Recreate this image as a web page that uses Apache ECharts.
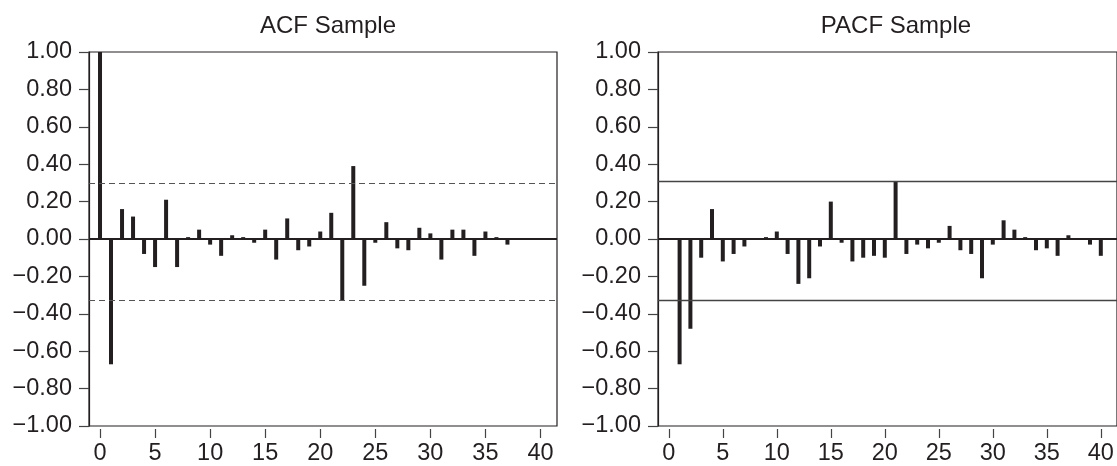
<!DOCTYPE html>
<html>
<head>
<meta charset="utf-8">
<title>ACF / PACF Sample</title>
<script src="https://cdn.jsdelivr.net/npm/echarts@6/dist/echarts.min.js"></script>
<style>
  html, body { margin: 0; padding: 0; background: #fff; }
  #chart { width: 1117px; height: 466px; }
</style>
</head>
<body>
<div id="chart"></div>
<script>
// 数据
const acfLags = [0, 1, 2, 3, 4, 5, 6, 7, 8, 9, 10, 11, 12, 13, 14, 15, 16, 17, 18, 19,
  20, 21, 22, 23, 24, 25, 26, 27, 28, 29, 30, 31, 32, 33, 34, 35, 36, 37];
const acfValues = [1.00, -0.67, 0.16, 0.12, -0.08, -0.15, 0.21, -0.15, 0.01, 0.05,
  -0.03, -0.09, 0.02, 0.01, -0.02, 0.05, -0.11, 0.11, -0.06, -0.04,
  0.04, 0.14, -0.33, 0.39, -0.25, -0.02, 0.09, -0.05, -0.06, 0.06,
  0.03, -0.11, 0.05, 0.05, -0.09, 0.04, 0.01, -0.03];

const pacfLags = [1, 2, 3, 4, 5, 6, 7, 9, 10, 11, 12, 13, 14, 15, 16, 17, 18, 19, 20,
  21, 22, 23, 24, 25, 26, 27, 28, 29, 30, 31, 32, 33, 34, 35, 36, 37, 39, 40];
const pacfValues = [-0.67, -0.48, -0.10, 0.16, -0.12, -0.08, -0.04, 0.01, 0.04, -0.08,
  -0.24, -0.21, -0.04, 0.20, -0.02, -0.12, -0.10, -0.09, -0.10,
  0.31, -0.08, -0.03, -0.05, -0.02, 0.07, -0.06, -0.08, -0.21, -0.03,
  0.10, 0.05, 0.01, -0.06, -0.05, -0.09, 0.02, -0.03, -0.09];

const xTicks = [0, 5, 10, 15, 20, 25, 30, 35, 40];
const acfBounds = [0.30, -0.33];
const pacfBounds = [0.31, -0.33];

const FONT = '"Liberation Sans", Arial, Helvetica, sans-serif';
const INK = '#231f20';
const LABEL_SIZE = 23.5;

// 组合 [lag, value]
function pairs(lags, vals) {
  return lags.map((l, i) => [l, vals[i]]);
}

function yLabel(v) {
  const s = Math.abs(v).toFixed(2);
  return v < -1e-9 ? '\u2212' + s : s;
}

function xAxisCfg(idx) {
  return {
    type: 'value',
    gridIndex: idx,
    min: -1,
    max: 41.5,
    offset: 3,
    axisLine: { show: false, onZero: false },
    splitLine: { show: false },
    axisTick: {
      show: true,
      customValues: xTicks,
      length: 9,
      lineStyle: { color: '#444', width: 1.2 }
    },
    axisLabel: {
      customValues: xTicks,
      margin: 13,
      fontSize: LABEL_SIZE,
      fontFamily: FONT,
      color: INK
    }
  };
}

function yAxisCfg(idx) {
  return {
    type: 'value',
    gridIndex: idx,
    min: -1,
    max: 1,
    interval: 0.2,
    axisLine: { show: true, onZero: false, lineStyle: { color: INK, width: 1.2 } },
    axisTick: { show: true, length: 10, lineStyle: { color: '#444', width: 1.2 } },
    splitLine: { show: false },
    axisLabel: {
      margin: 17,
      fontSize: LABEL_SIZE,
      fontFamily: FONT,
      color: INK,
      formatter: yLabel
    }
  };
}

function barSeries(idx, data, bounds, boundStyle) {
  return {
    type: 'bar',
    xAxisIndex: idx,
    yAxisIndex: idx,
    data: data,
    barWidth: 4,
    itemStyle: { color: INK },
    animation: false,
    markLine: {
      silent: true,
      symbol: ['none', 'none'],
      label: { show: false },
      animation: false,
      data: [
        { yAxis: 0, lineStyle: { color: INK, width: 2.2, type: 'solid' } },
        { yAxis: bounds[0], lineStyle: boundStyle },
        { yAxis: bounds[1], lineStyle: boundStyle }
      ]
    }
  };
}

const chart = echarts.init(document.getElementById('chart'));

const option = {
  backgroundColor: '#fff',
  animation: false,
  title: [
    {
      text: 'ACF Sample',
      left: 323, top: 9, textAlign: 'center',
      textStyle: { fontSize: 24, fontWeight: 'normal', color: INK, fontFamily: FONT }
    },
    {
      text: 'PACF Sample',
      left: 891, top: 9, textAlign: 'center',
      textStyle: { fontSize: 24, fontWeight: 'normal', color: INK, fontFamily: FONT }
    }
  ],
  grid: [
    { left: 89, top: 52, width: 468, height: 374, show: true, borderColor: INK, borderWidth: 1.2 },
    { left: 658, top: 52, width: 468, height: 374, show: true, borderColor: INK, borderWidth: 1.2 }
  ],
  xAxis: [xAxisCfg(0), xAxisCfg(1)],
  yAxis: [yAxisCfg(0), yAxisCfg(1)],
  series: [
    barSeries(0, pairs(acfLags, acfValues), acfBounds,
      { color: '#555', width: 1.2, type: [6, 4] }),
    barSeries(1, pairs(pacfLags, pacfValues), pacfBounds,
      { color: '#444', width: 1.4, type: 'solid' })
  ]
};

chart.setOption(option);
</script>
</body>
</html>
